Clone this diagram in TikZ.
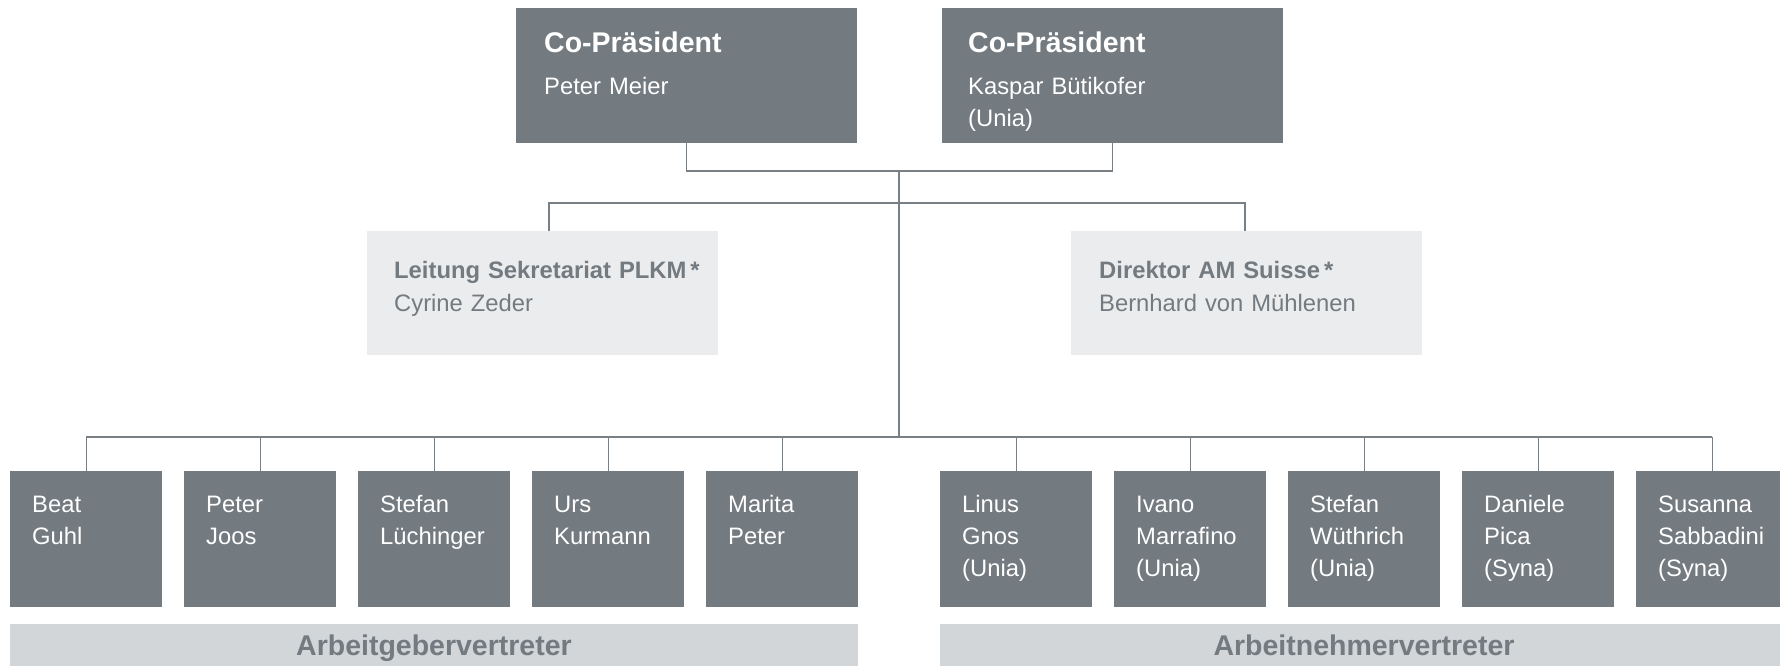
\documentclass[tikz,border=0pt]{standalone}
\usepackage{fontspec}
\setmainfont{Liberation Sans}
\definecolor{darkbox}{RGB}{115,122,128}
\definecolor{lightbox}{RGB}{235,236,237}
\definecolor{barbox}{RGB}{211,214,217}
\definecolor{graytext}{RGB}{115,122,128}
\definecolor{conncol}{RGB}{120,128,134}
\begin{document}
\begin{tikzpicture}[x=1pt,y=-1pt,
  topbox/.style={fill=darkbox, draw=none, anchor=north west, inner sep=0pt, minimum width=341pt, minimum height=135pt},
  secbox/.style={fill=lightbox, draw=none, anchor=north west, inner sep=0pt, minimum width=351pt, minimum height=124pt},
  pbox/.style={fill=darkbox, draw=none, anchor=north west, inner sep=0pt, minimum width=152pt, minimum height=136pt},
  barbg/.style={fill=barbox, draw=none, anchor=north west, inner sep=0pt, minimum height=50pt},
  titletext/.style={text=white, font=\fontsize{28.5}{32}\selectfont\bfseries, anchor=base west, inner sep=0pt},
  wtext/.style={text=white, font=\fontsize{23.8}{32}\selectfont, anchor=base west, inner sep=0pt, text width=300pt, align=left},
  gtext/.style={text=graytext, font=\fontsize{23.8}{33}\selectfont, anchor=base west, inner sep=0pt, text width=330pt, align=left},
  bartext/.style={text=graytext, font=\fontsize{28.5}{30}\selectfont\bfseries, anchor=base, inner sep=0pt},
  conn/.style={draw=conncol, line width=1.4pt}
]
\clip (0,0) rectangle (1780,665);
\fill[white] (0,0) rectangle (1780,665);

% top boxes
\node[topbox] (p1) at (516,8) {};
\node[topbox] (p2) at (942,8) {};
\node[titletext] (p1t) at ([xshift=28pt,yshift=-44pt]p1.north west) {Co-Präsident};
\node[wtext] (p1n) at ([xshift=28pt,yshift=-86pt]p1.north west) {Peter Meier};
\node[titletext] (p2t) at ([xshift=26pt,yshift=-44pt]p2.north west) {Co-Präsident};
\node[wtext] (p2n) at ([xshift=26pt,yshift=-86pt]p2.north west) {Kaspar Bütikofer\\(Unia)};

% secretariat boxes
\node[secbox] (s1) at (367,231) {};
\node[secbox] (s2) at (1071,231) {};
\node[gtext] (s1t) at ([xshift=27pt,yshift=-47pt]s1.north west) {\textbf{Leitung Sekretariat PLKM\,*}\\Cyrine Zeder};
\node[gtext] (s2t) at ([xshift=28pt,yshift=-47pt]s2.north west) {\textbf{Direktor AM Suisse\,*}\\Bernhard von Mühlenen};

% persons
\foreach \n/\x/\t in {b1/10/{Beat\\Guhl}, b2/184/{Peter\\Joos}, b3/358/{Stefan\\Lüchinger}, b4/532/{Urs\\Kurmann}, b5/706/{Marita\\Peter},
  b6/940/{Linus\\Gnos\\(Unia)}, b7/1114/{Ivano\\Marrafino\\(Unia)}, b8/1288/{Stefan\\Wüthrich\\(Unia)}, b9/1462/{Daniele\\Pica\\(Syna)}, b10/1636/{Susanna\\Sabbadini\\(Syna)}}{
  \node[pbox] (\n) at (\x,471) {};
  \node[wtext] (\n t) at ([xshift=22pt,yshift=-41pt]\n.north west) {\t};
}

% bars
\node[barbg, minimum width=848pt] (bar1) at (10,624) {};
\node[barbg, minimum width=848pt] (bar2) at (940,624) {};
\node[bartext] (bar1t) at (434,655) {Arbeitgebervertreter};
\node[bartext] (bar2t) at (1364,655) {Arbeitnehmervertreter};

% connectors
\coordinate (j1) at (899,171);
\coordinate (j2) at (899,203);
\coordinate (j3) at (899,437);
\coordinate (tl) at (549,203);
\coordinate (tr) at (1245,203);
\draw[conn] (p1.south) -- (p1.south |- j1) -- (p2.south |- j1) -- (p2.south);
\draw[conn] (j1) -- (j3);
\draw[conn] (tl |- s1.north) -- (tl) -- (tr) -- (tr |- s2.north);
\draw[conn] (b1.north |- j3) -- (b10.north |- j3);
\foreach \n in {b1,b2,b3,b4,b5,b6,b7,b8,b9,b10}{
  \draw[conn] (\n.north |- j3) -- (\n.north);
}
\end{tikzpicture}
\end{document}
